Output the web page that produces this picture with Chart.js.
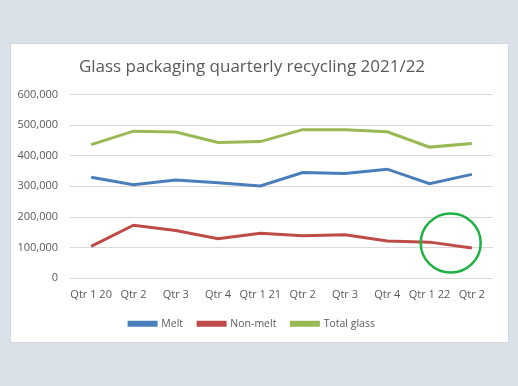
<!DOCTYPE html>
<html>
<head>
<meta charset="utf-8">
<script src="https://cdn.jsdelivr.net/npm/chart.js@4"></script>
<style>
  html, body { margin: 0; padding: 0; }
  body { width: 518px; height: 386px; background: #dbe1e8; position: relative; overflow: hidden; }
  #card { position: absolute; left: 10px; top: 43px; width: 497px; height: 298px; background: #fff; border: 1px solid #d4d8dc; }
  #card canvas { display: block; }
</style>
</head>
<body>
<div id="card"><canvas id="chart" width="497" height="298"></canvas></div>
<script>
// ── data ──────────────────────────────────────────────
const quarters = ['Qtr 1 20', 'Qtr 2', 'Qtr 3', 'Qtr 4', 'Qtr 1 21', 'Qtr 2', 'Qtr 3', 'Qtr 4', 'Qtr 1 22', 'Qtr 2'];
const melt = [330000, 305000, 321000, 312000, 301000, 345000, 342000, 356000, 309000, 339000];
const nonMelt = [104000, 173000, 156000, 129000, 147000, 139000, 142000, 122000, 118000, 99000];
const totalGlass = [436000, 480000, 477000, 443000, 446000, 485000, 485000, 478000, 428000, 440000];

const colors = {
    blue: '#4a7ebb',
    red: '#be4b48',
    green: '#98b954',
    text: '#595959',
    grid: '#d9d9d9',
    ring: '#1fb144',
};

// hand-drawn highlight ring around the last two non-melt points
const ringPlugin = {
    id: 'ring',
    afterDatasetsDraw(chart) {
        const { ctx, scales } = chart;
        const x = (scales.x.getPixelForValue(8) + scales.x.getPixelForValue(9)) / 2;
        const y = scales.y.getPixelForValue(115000);
        ctx.save();
        ctx.strokeStyle = colors.ring;
        ctx.lineWidth = 2.5;
        ctx.beginPath();
        ctx.ellipse(x, y, 30, 29.5, 0, 0, Math.PI * 2);
        ctx.stroke();
        ctx.restore();
    },
};

Chart.defaults.font.family = "'Open Sans', sans-serif";
Chart.defaults.color = colors.text;

const line = (label, data, color) => ({
    label, data,
    borderColor: color,
    backgroundColor: color,
    borderWidth: 3,
    pointRadius: 0,
    tension: 0,
});

new Chart(document.getElementById('chart'), {
    type: 'line',
    data: {
        labels: quarters,
        datasets: [
            line('Melt', melt, colors.blue),
            line('Non-melt', nonMelt, colors.red),
            line('Total glass', totalGlass, colors.green),
        ],
    },
    options: {
        responsive: false,
        animation: false,
        layout: { padding: { left: 0, right: 15, top: 4, bottom: 3 } },
        plugins: {
            title: {
                display: true,
                text: 'Glass packaging quarterly recycling 2021/22',
                color: colors.text,
                font: { size: 17, weight: 'normal' },
                padding: { top: 9, bottom: 17 },
            },
            legend: {
                position: 'bottom',
                labels: {
                    boxWidth: 27,
                    boxHeight: 3,
                    font: { size: 10.5 },
                    padding: 15,
                },
            },
            tooltip: { enabled: false },
        },
        scales: {
            x: {
                offset: true,
                grid: { display: false },
                border: { display: false },
                ticks: { maxRotation: 0, autoSkip: false, font: { size: 11 }, padding: 2 },
            },
            y: {
                min: 0,
                max: 600000,
                grid: { color: colors.grid, drawTicks: false },
                border: { display: false },
                afterFit: scale => { scale.width = 59; },
                ticks: {
                    stepSize: 100000,
                    padding: 12,
                    font: { size: 11 },
                    callback: v => v.toLocaleString('en-US'),
                },
            },
        },
    },
    plugins: [ringPlugin],
});
</script>
</body>
</html>
